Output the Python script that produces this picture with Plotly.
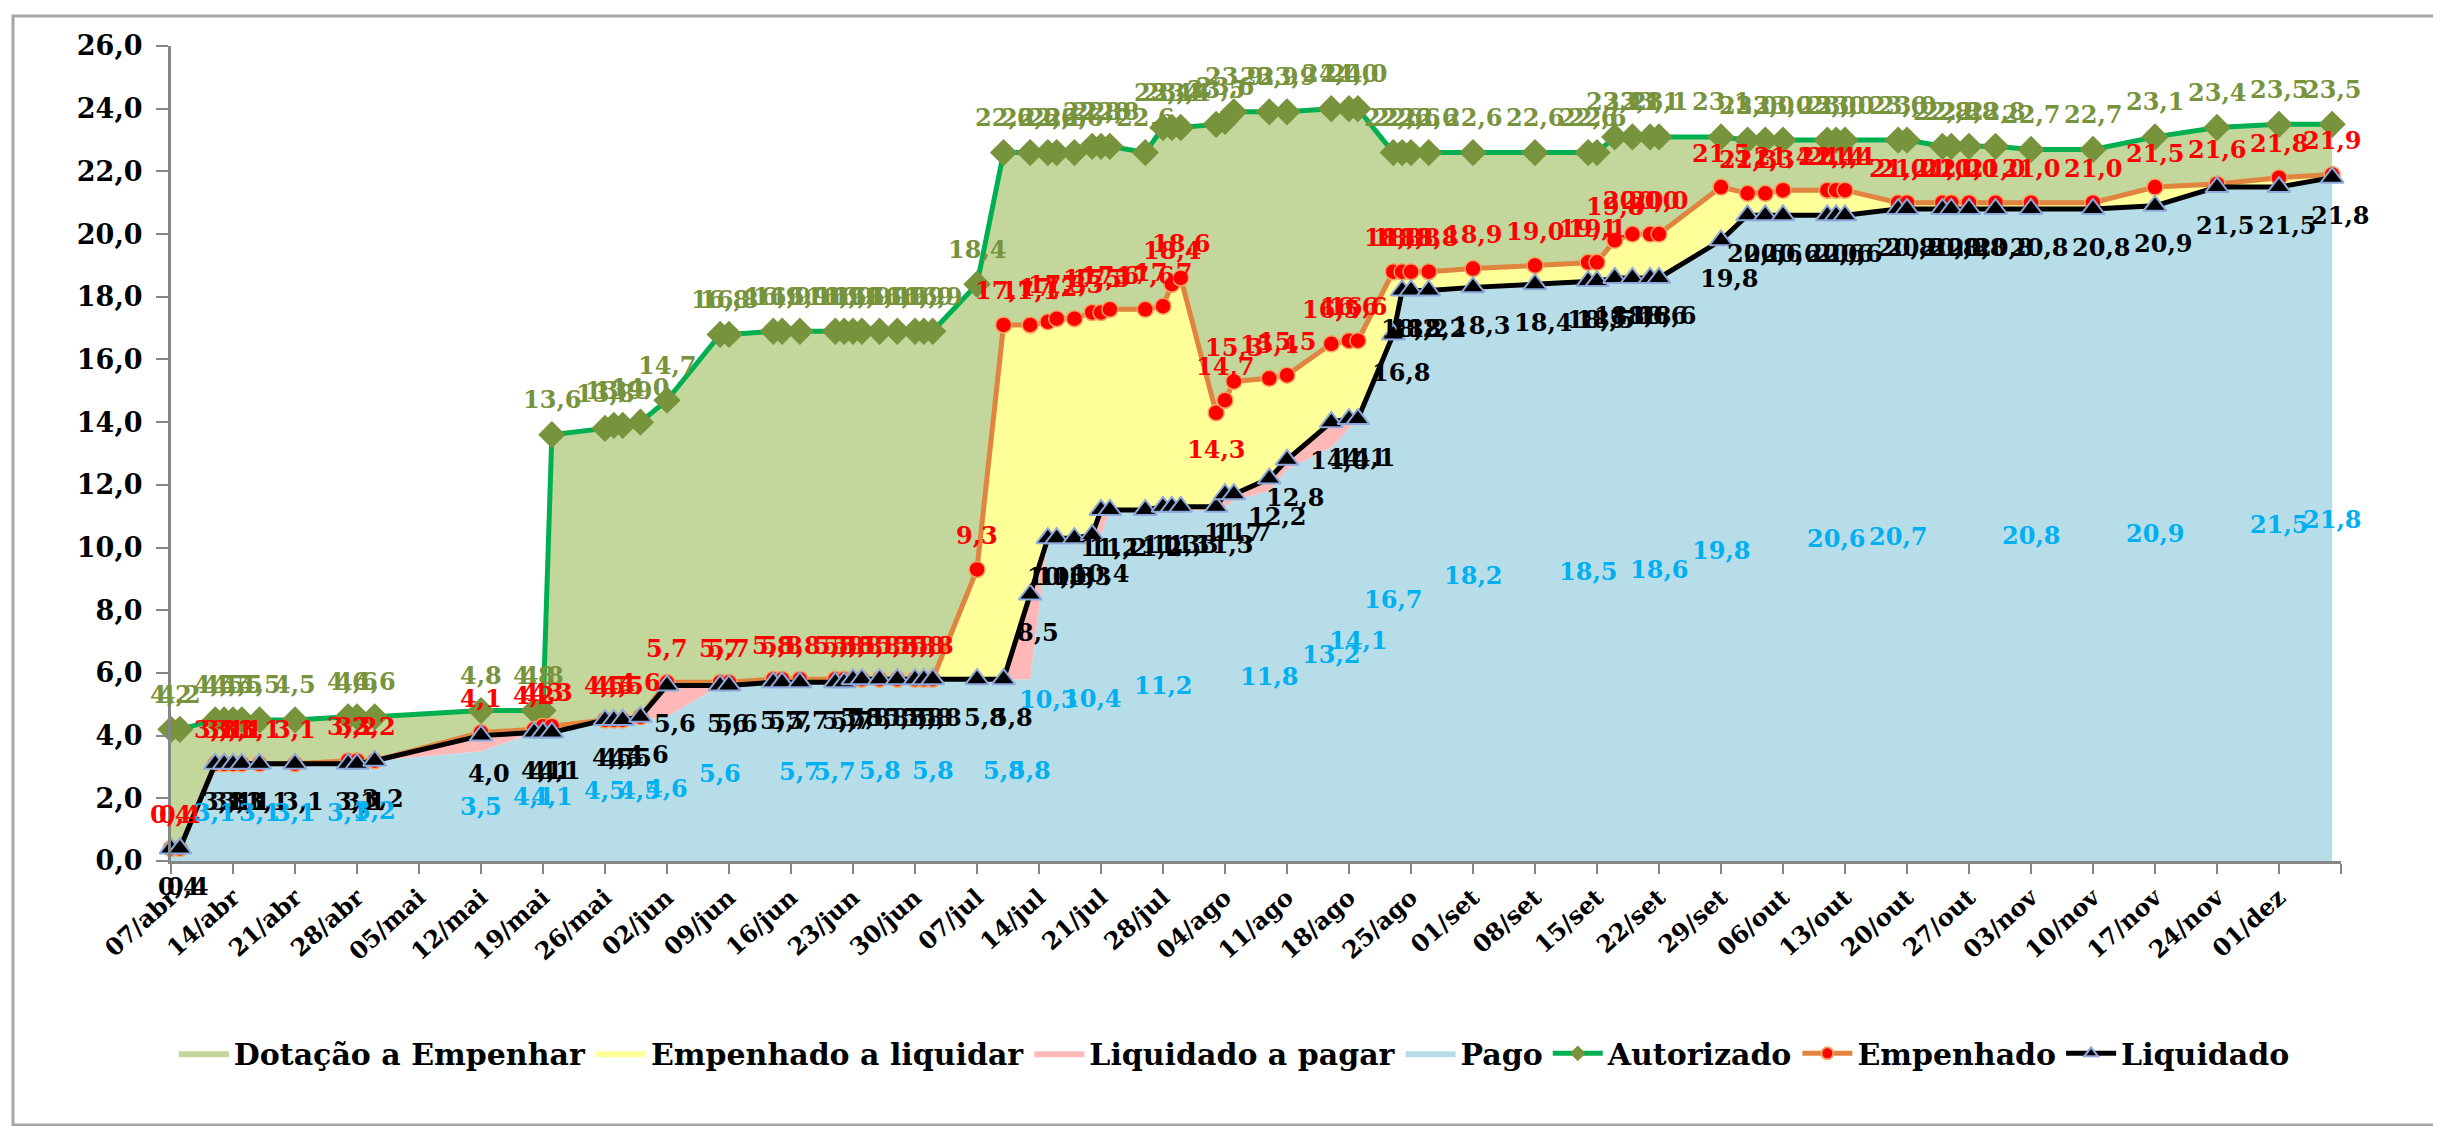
import plotly.graph_objects as go
import pandas as pd

# ---------------- data ----------------
dates = [
    "2014-04-07", "2014-04-08", "2014-04-12", "2014-04-13", "2014-04-14", "2014-04-15", "2014-04-17",
    "2014-04-21", "2014-04-27", "2014-04-28", "2014-04-30",
    "2014-05-12", "2014-05-18", "2014-05-19", "2014-05-20", "2014-05-26", "2014-05-27", "2014-05-28", "2014-05-30",
    "2014-06-02", "2014-06-08", "2014-06-09", "2014-06-14", "2014-06-15", "2014-06-17", "2014-06-21",
    "2014-06-22", "2014-06-23", "2014-06-24", "2014-06-26", "2014-06-28", "2014-06-30",
    "2014-07-01", "2014-07-02", "2014-07-07", "2014-07-10", "2014-07-13", "2014-07-15", "2014-07-16",
    "2014-07-18", "2014-07-20", "2014-07-21", "2014-07-22", "2014-07-26", "2014-07-28", "2014-07-29", "2014-07-30",
    "2014-08-03", "2014-08-04", "2014-08-05", "2014-08-09", "2014-08-11", "2014-08-16", "2014-08-18",
    "2014-08-19", "2014-08-23", "2014-08-24", "2014-08-25", "2014-08-27",
    "2014-09-01", "2014-09-08", "2014-09-14", "2014-09-15", "2014-09-17", "2014-09-19", "2014-09-21",
    "2014-09-22", "2014-09-29",
    "2014-10-02", "2014-10-04", "2014-10-06", "2014-10-11", "2014-10-12", "2014-10-13", "2014-10-19",
    "2014-10-20", "2014-10-24", "2014-10-25", "2014-10-27", "2014-10-30",
    "2014-11-03", "2014-11-10", "2014-11-17", "2014-11-24", "2014-12-01", "2014-12-07",
]

autorizado = [
    4.2, 4.2, 4.5, 4.5, 4.5, 4.5, 4.5, 4.5, 4.6, 4.6, 4.6,
    4.8, 4.8, 4.8, 13.6, 13.8, 13.9, 13.9, 14.0,
    14.7, 16.8, 16.8, 16.9, 16.9, 16.9, 16.9, 16.9, 16.9, 16.9, 16.9, 16.9, 16.9,
    16.9, 16.9, 18.4, 22.6, 22.6, 22.6, 22.6, 22.6, 22.8, 22.8, 22.8, 22.6, 23.4, 23.4, 23.4,
    23.5, 23.6, 23.9, 23.9, 23.9, 24.0, 24.0, 24.0, 22.6, 22.6, 22.6, 22.6,
    22.6, 22.6, 22.6, 22.6, 23.1, 23.1, 23.1, 23.1, 23.1,
    23.0, 23.0, 23.0, 23.0, 23.0, 23.0, 23.0, 23.0, 22.8, 22.8, 22.8, 22.8,
    22.7, 22.7, 23.1, 23.4, 23.5, 23.5,
]

empenhado = [
    0.4, 0.4, 3.1, 3.1, 3.1, 3.1, 3.1, 3.1, 3.2, 3.2, 3.2,
    4.1, 4.2, 4.3, 4.3, 4.5, 4.5, 4.5, 4.6,
    5.7, 5.7, 5.7, 5.8, 5.8, 5.8, 5.8, 5.8, 5.8, 5.8, 5.8, 5.8, 5.8,
    5.8, 5.8, 9.3, 17.1, 17.1, 17.2, 17.3, 17.3, 17.5, 17.5, 17.6, 17.6, 17.7, 18.4, 18.6,
    14.3, 14.7, 15.3, 15.4, 15.5, 16.5, 16.6, 16.6, 18.8, 18.8, 18.8, 18.8,
    18.9, 19.0, 19.1, 19.1, 19.8, 20.0, 20.0, 20.0, 21.5,
    21.3, 21.3, 21.4, 21.4, 21.4, 21.4, 21.0, 21.0, 21.0, 21.0, 21.0, 21.0,
    21.0, 21.0, 21.5, 21.6, 21.8, 21.9,
]

liquidado = [
    0.4, 0.4, 3.1, 3.1, 3.1, 3.1, 3.1, 3.1, 3.1, 3.1, 3.2,
    4.0, 4.1, 4.1, 4.1, 4.5, 4.5, 4.5, 4.6,
    5.6, 5.6, 5.6, 5.7, 5.7, 5.7, 5.7, 5.7, 5.8, 5.8, 5.8, 5.8, 5.8,
    5.8, 5.8, 5.8, 5.8, 8.5, 10.3, 10.3, 10.3, 10.4, 11.2, 11.2, 11.2, 11.3, 11.3, 11.3,
    11.3, 11.7, 11.7, 12.2, 12.8, 14.0, 14.1, 14.1, 16.8, 18.2, 18.2, 18.2,
    18.3, 18.4, 18.5, 18.5, 18.6, 18.6, 18.6, 18.6, 19.8,
    20.6, 20.6, 20.6, 20.6, 20.6, 20.6, 20.8, 20.8, 20.8, 20.8, 20.8, 20.8,
    20.8, 20.8, 20.9, 21.5, 21.5, 21.8,
]

pago = [
    0.4, 0.4, 3.1, 3.1, 3.1, 3.1, 3.1, 3.1, 3.1, 3.1, 3.2,
    3.5, 4.1, 4.1, 4.1, 4.5, 4.5, 4.5, 4.5,
    4.6, 5.6, 5.6, 5.7, 5.7, 5.7, 5.7, 5.7, 5.8, 5.8, 5.8, 5.8, 5.8,
    5.8, 5.8, 5.8, 5.8, 5.8, 10.3, 10.3, 10.3, 10.4, 10.4, 11.2, 11.2, 11.2, 11.2, 11.2,
    11.2, 11.3, 11.5, 11.8, 12.5, 13.2, 13.8, 14.1, 16.7, 18.2, 18.2, 18.2,
    18.2, 18.4, 18.5, 18.5, 18.5, 18.6, 18.6, 18.6, 19.8,
    20.6, 20.6, 20.6, 20.6, 20.6, 20.6, 20.7, 20.7, 20.8, 20.8, 20.8, 20.8,
    20.8, 20.8, 20.9, 21.5, 21.5, 21.8,
]

# which Pago values carry a visible data label (1 = shown)
pago_label_shown = [
    0, 0, 1, 0, 0, 0, 1, 1, 1, 0, 1,
    1, 1, 0, 1, 1, 0, 0, 1,
    1, 1, 0, 0, 0, 1, 1, 0, 0, 0, 1, 0, 0,
    0, 1, 0, 1, 1, 1, 0, 0, 1, 0, 0, 0, 1, 0, 0,
    0, 0, 0, 1, 0, 1, 0, 1, 1, 0, 0, 0,
    1, 0, 1, 0, 0, 0, 0, 1, 1,
    0, 0, 0, 0, 1, 0, 1, 0, 0, 0, 0, 0,
    1, 0, 1, 0, 1, 1,
]

# Empenhado labels drawn below the point instead of above
empenhado_label_below = ["2014-08-03"]

tick_labels = [
    "07/abr", "14/abr", "21/abr", "28/abr", "05/mai", "12/mai", "19/mai", "26/mai",
    "02/jun", "09/jun", "16/jun", "23/jun", "30/jun", "07/jul", "14/jul", "21/jul",
    "28/jul", "04/ago", "11/ago", "18/ago", "25/ago", "01/set", "08/set", "15/set",
    "22/set", "29/set", "06/out", "13/out", "20/out", "27/out", "03/nov", "10/nov",
    "17/nov", "24/nov", "01/dez",
]
axis_start = "2014-04-07"
axis_end = "2014-12-08"

# ---------------- derived bands ----------------
liq_a_pagar = [round(l - p, 2) for l, p in zip(liquidado, pago)]
emp_a_liquidar = [round(e - l, 2) for e, l in zip(empenhado, liquidado)]
dot_a_empenhar = [round(a - e, 2) for a, e in zip(autorizado, empenhado)]

FONT = "DejaVu Serif"
C_AUT_LINE = "#00B050"
C_AUT_MK = "#77933C"
C_EMP_LINE = "#E0843F"
C_EMP_MK = "#FF0000"
C_LIQ = "#000000"
C_PAGO_TXT = "#00B0F0"

fig = go.Figure()

areas = [
    ("Pago", pago, "#B7DDE8", 4),
    ("Liquidado a pagar", liq_a_pagar, "#FFB8B8", 3),
    ("Empenhado a liquidar", emp_a_liquidar, "#FFFF99", 2),
    ("Dotação a Empenhar", dot_a_empenhar, "#C3D69B", 1),
]
for name, vals, col, rank in areas:
    fig.add_trace(go.Scatter(
        x=dates, y=vals, name=name, stackgroup="one", mode="lines",
        line=dict(width=0, color=col), fillcolor=col, legendrank=rank,
        hoverinfo="skip",
    ))

fig.add_trace(go.Scatter(
    x=dates, y=autorizado, name="Autorizado", mode="lines+markers",
    line=dict(color=C_AUT_LINE, width=5),
    marker=dict(symbol="diamond", size=21, color=C_AUT_MK, line=dict(width=0)),
    legendrank=5, cliponaxis=False,
))
fig.add_trace(go.Scatter(
    x=dates, y=empenhado, name="Empenhado", mode="lines+markers",
    line=dict(color=C_EMP_LINE, width=5),
    marker=dict(symbol="circle", size=16, color=C_EMP_MK, line=dict(width=1.5, color="#F4A460")),
    legendrank=6, cliponaxis=False,
))
fig.add_trace(go.Scatter(
    x=dates, y=liquidado, name="Liquidado", mode="lines+markers",
    line=dict(color=C_LIQ, width=5),
    marker=dict(symbol="triangle-up", size=20, color=C_LIQ, line=dict(width=2, color="#8EA9DB")),
    legendrank=7, cliponaxis=False,
))


def fmt(v):
    return f"{v:.1f}".replace(".", ",")


def lab_font(color):
    return dict(family=FONT, size=24, color=color, weight="bold")


annotations = []
for x, v in zip(dates, autorizado):
    annotations.append(dict(x=x, y=v, text=fmt(v), showarrow=False, yshift=35,
                            font=lab_font(C_AUT_MK)))
for x, v in zip(dates, empenhado):
    shift = -37 if x in empenhado_label_below else 34
    annotations.append(dict(x=x, y=v, text=fmt(v), showarrow=False, yshift=shift,
                            font=lab_font(C_EMP_MK)))
for x, v in zip(dates, liquidado):
    annotations.append(dict(x=x, y=v, text=fmt(v), showarrow=False, yshift=-38, xshift=8,
                            font=lab_font(C_LIQ)))
for x, v, show in zip(dates, pago, pago_label_shown):
    if show:
        annotations.append(dict(x=x, y=v / 2, text=fmt(v), showarrow=False,
                                font=lab_font(C_PAGO_TXT)))

tick_vals = list(pd.date_range(axis_start, periods=len(tick_labels), freq="7D").strftime("%Y-%m-%d"))
tick_vals.append(axis_end)
tick_text = tick_labels + [""]

W, H = 2441, 1126
ML, MR, MT, MB = 163, 108, 38, 273
pw, ph = W - ML - MR, H - MT - MB

fig.update_layout(
    width=W, height=H, autosize=False,
    margin=dict(l=ML, r=MR, t=MT, b=MB, pad=0),
    paper_bgcolor="white", plot_bgcolor="white",
    separators=",.",
    font=dict(family=FONT, color="black"),
    annotations=annotations,
    showlegend=True,
    legend=dict(
        orientation="h", x=0.49, xanchor="center", y=-0.236, yanchor="middle",
        font=dict(family=FONT, size=30, color="black", weight="bold"),
        traceorder="normal", itemwidth=50, itemsizing="constant",
        bgcolor="rgba(0,0,0,0)",
    ),
    xaxis=dict(
        type="date", range=[axis_start, axis_end],
        tickmode="array", tickvals=tick_vals, ticktext=tick_text,
        tickangle=-42, ticks="outside", ticklen=10, tickwidth=2, tickcolor="#868686",
        showline=True, linecolor="#868686", linewidth=3,
        showgrid=False, zeroline=False,
        tickfont=dict(family=FONT, size=24, color="black", weight="bold"),
    ),
    yaxis=dict(
        range=[0, 26], dtick=2, tick0=0, tickformat=".1f",
        ticks="outside", ticklen=12, tickwidth=2, tickcolor="#868686",
        ticklabelstandoff=8,
        showline=True, linecolor="#868686", linewidth=3,
        showgrid=False, zeroline=False,
        tickfont=dict(family=FONT, size=27, color="black", weight="bold"),
    ),
    shapes=[dict(
        type="rect", xref="paper", yref="paper",
        x0=(5 - ML) / pw, x1=(2432 - ML) / pw,
        y0=-(1117 - (H - MB)) / ph, y1=((H - MB) - 8) / ph,
        line=dict(color="#A6A6A6", width=3), fillcolor="rgba(0,0,0,0)", layer="below",
    )],
)

fig.write_html("out.html")
